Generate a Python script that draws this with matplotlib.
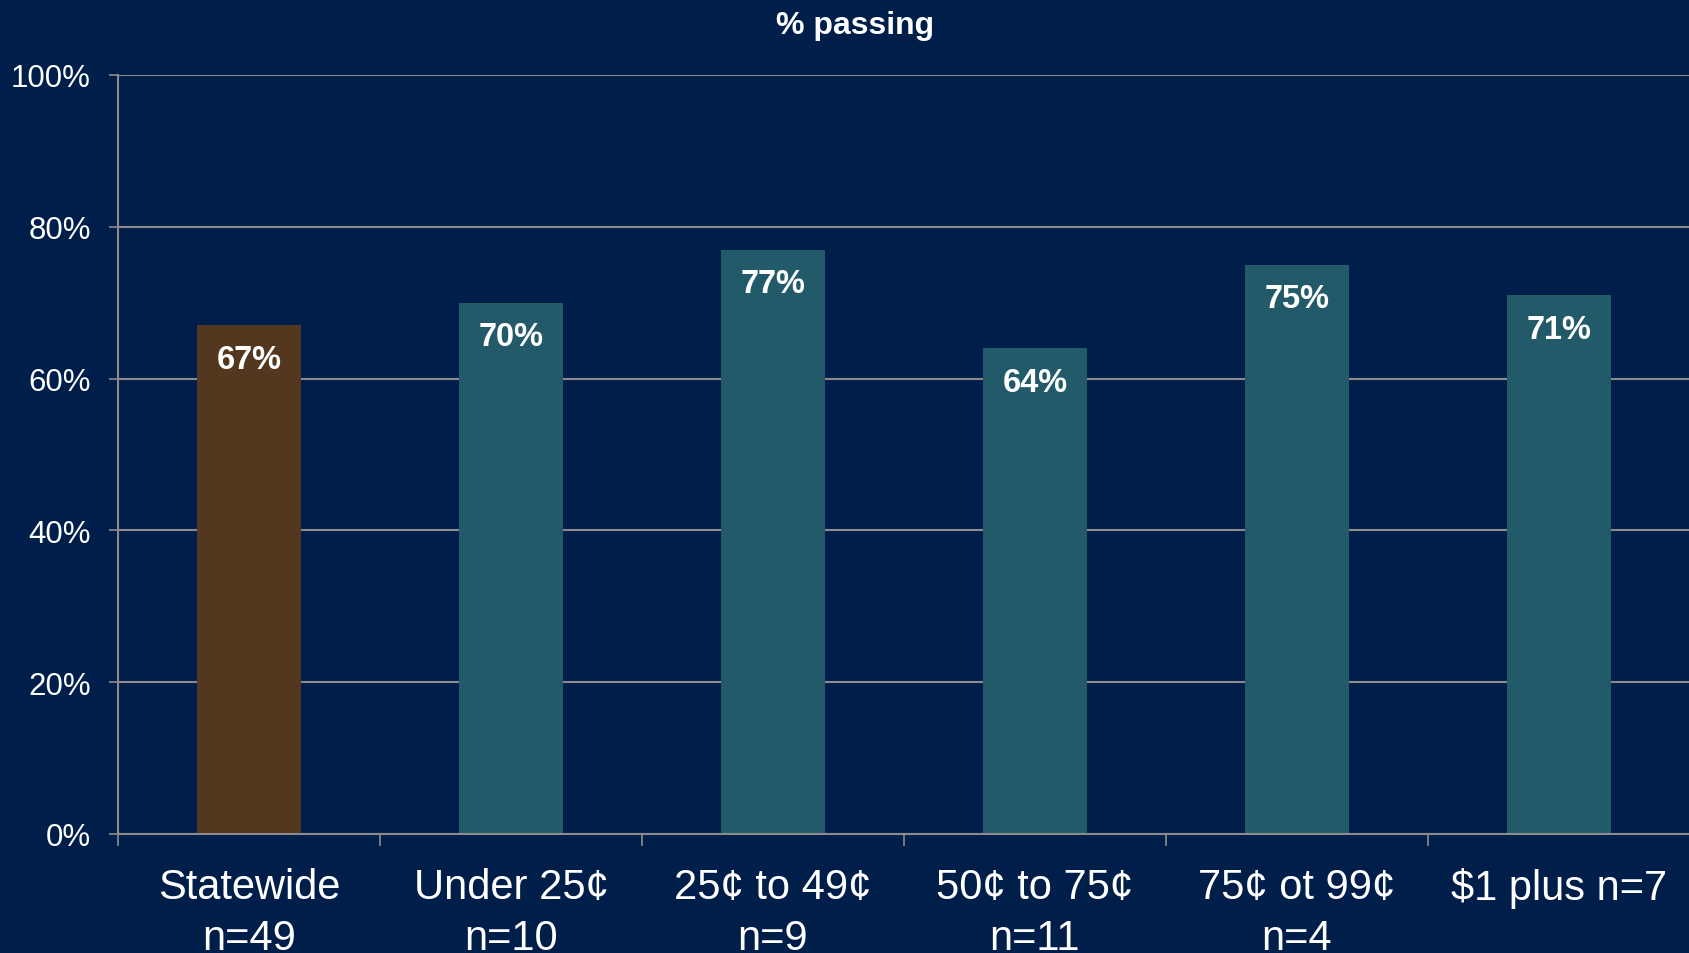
import numpy as np
import matplotlib
matplotlib.use('Agg')
import matplotlib.pyplot as plt

# data
categories = ['Statewide\nn=49', 'Under 25\u00a2\nn=10', '25\u00a2 to 49\u00a2\nn=9',
              '50\u00a2 to 75\u00a2\nn=11', '75\u00a2 ot 99\u00a2\nn=4', '$1 plus n=7']
pct_passing = [0.67, 0.70, 0.77, 0.64, 0.75, 0.71]
bar_labels = ['67%', '70%', '77%', '64%', '75%', '71%']
ytick_vals = [0, 0.2, 0.4, 0.6, 0.8, 1.0]
ytick_labels = ['0%', '20%', '40%', '60%', '80%', '100%']

bg = '#001E4A'
teal = '#235A69'
brown = '#54371F'
gridc = '#8C8C8C'

plt.rcParams['font.family'] = ['Liberation Sans', 'DejaVu Sans']

fig = plt.figure(figsize=(16.9, 9.54), dpi=100, facecolor=bg)
ax = fig.add_axes([118/1690, 1-835/954, 1-118/1690, (835-76)/954])
ax.set_facecolor(bg)

x = np.arange(len(categories))
colors = [brown] + [teal]*(len(categories)-1)
ax.bar(x, pct_passing, width=0.4, color=colors, zorder=3)

for xi, v, lab in zip(x, pct_passing, bar_labels):
    ax.text(xi, v - 0.045, lab, ha='center', va='center', color='white',
            fontsize=23.5, fontweight='bold', zorder=4)

ax.set_xlim(-0.5, len(categories)-0.5)
ax.set_ylim(0, 1.0)

# gridlines
ax.set_yticks(ytick_vals)
ax.set_yticklabels(ytick_labels)
ax.yaxis.grid(True, color=gridc, linewidth=1.5, zorder=1)
ax.tick_params(axis='y', colors=gridc, labelcolor='white', labelsize=22.5,
               length=6.5, width=1.2, pad=13)

# category labels centered, tick marks at boundaries
ax.set_xticks(x)
ax.set_xticklabels(categories, linespacing=1.35)
ax.set_xticks(np.arange(len(categories)+1) - 0.5, minor=True)
ax.tick_params(axis='x', which='major', length=0, labelcolor='white',
               labelsize=30, pad=24)
ax.tick_params(axis='x', which='minor', length=8.6, width=1.2, color=gridc)

for s in ['top', 'right']:
    ax.spines[s].set_visible(False)
for s in ['left', 'bottom']:
    ax.spines[s].set_color(gridc)
    ax.spines[s].set_linewidth(1.5)
    ax.spines[s].set_zorder(5)

fig.text(855/1690, 1-26/954, '% passing', ha='center', va='center',
         color='white', fontsize=23, fontweight='bold')

fig.savefig('out.png', dpi=100, facecolor=bg)
